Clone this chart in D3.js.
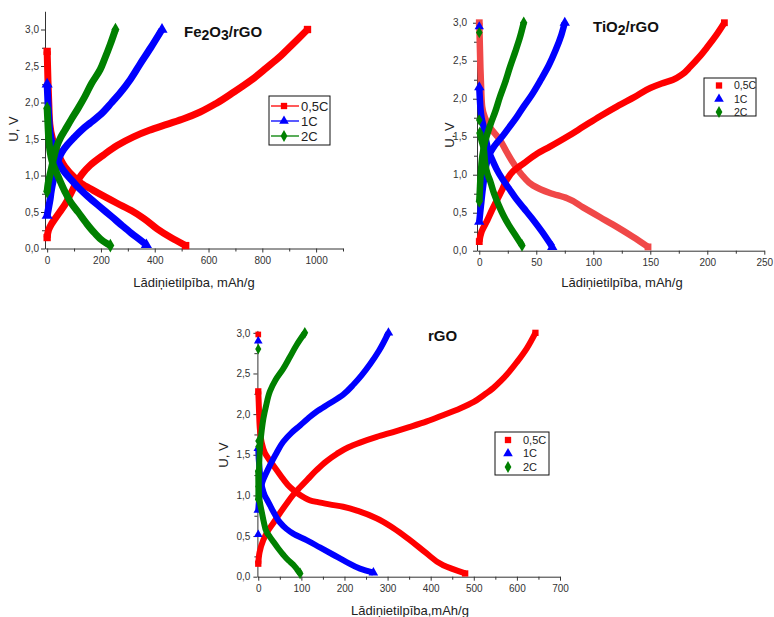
<!DOCTYPE html>
<html>
<head>
<meta charset="utf-8">
<script src="https://cdn.jsdelivr.net/npm/d3@7"></script>
<style>
  body { margin: 0; background: #fff; }
  text { font-family: "Liberation Sans", Arial, sans-serif; }
</style>
</head>
<body>
<script>
// ---- Fe2O3/rGO  [capacity mAh/g, voltage V]
var fe_05C_dis = [[0,2.7],[3,2.3],[6,2.0],[10,1.7],[20,1.5],[35,1.35],[66,1.12],[100,0.98],[128,0.89],[170,0.8],[214,0.71],[260,0.62],[313,0.52],[360,0.41],[409,0.27],[460,0.15],[515,0.04]];
var fe_05C_ch = [[0,0.15],[5,0.25],[15,0.33],[28,0.4],[45,0.49],[66,0.6],[90,0.77],[110,0.91],[130,1.02],[160,1.14],[209,1.28],[260,1.41],[321,1.53],[380,1.62],[445,1.7],[510,1.78],[569,1.87],[630,1.99],[693,2.14],[760,2.31],[817,2.48],[860,2.61],[891,2.72],[930,2.86],[968,3.0]];
var fe_1C_dis = [[0,2.25],[3,2.0],[6,1.8],[10,1.6],[16,1.48],[25,1.35],[40,1.2],[60,1.07],[90,0.94],[120,0.82],[152,0.71],[200,0.56],[239,0.44],[280,0.31],[313,0.21],[345,0.12],[369,0.05]];
var fe_1C_ch = [[0,0.45],[5,0.55],[10,0.65],[15,0.78],[22,0.92],[30,1.05],[40,1.2],[55,1.32],[75,1.42],[100,1.52],[130,1.63],[160,1.72],[197,1.83],[240,2.0],[271,2.13],[310,2.32],[346,2.53],[385,2.75],[427,3.0]];
var fe_2C_dis = [[0,1.92],[3,1.7],[6,1.5],[10,1.35],[18,1.2],[30,1.08],[45,0.95],[66,0.78],[90,0.62],[115,0.5],[145,0.35],[177,0.21],[205,0.11],[235,0.04]];
var fe_2C_ch = [[0,0.78],[4,0.9],[10,1.0],[16,1.1],[25,1.25],[35,1.39],[50,1.52],[66,1.62],[90,1.77],[115,1.92],[140,2.08],[165,2.26],[197,2.45],[214,2.6],[235,2.8],[254,3.0]];

// ---- TiO2/rGO
var ti_05C_dis = [[0,3.0],[0.5,2.7],[1,2.4],[1.5,2.2],[2.5,1.9],[5,1.75],[9,1.63],[18,1.46],[24,1.3],[30,1.15],[39,0.97],[47,0.86],[62,0.76],[77,0.69],[91,0.57],[106,0.44],[121,0.31],[135,0.18],[148,0.05]];
var ti_05C_ch = [[0,0.12],[2,0.25],[7,0.4],[11,0.53],[15.6,0.67],[20,0.8],[24,0.93],[30,1.05],[39,1.15],[50,1.27],[62,1.37],[77,1.5],[91,1.63],[106,1.77],[121,1.9],[136,2.02],[150,2.14],[160,2.2],[170,2.25],[178,2.32],[185,2.42],[193,2.55],[200,2.68],[208,2.84],[215,3.0]];
var ti_1C_pts = [[0,2.95]];
var ti_1C_dis = [[0,2.15],[0.5,2.0],[1,1.88],[2,1.75],[4,1.62],[6,1.45],[8,1.32],[11,1.21],[15,1.08],[20,0.95],[26,0.82],[32,0.69],[39,0.56],[46,0.43],[55,0.25],[64,0.05]];
var ti_1C_ch = [[0,0.38],[0.8,0.5],[1.8,0.64],[2.8,0.78],[3.8,0.9],[5,1.03],[6.8,1.17],[9,1.27],[12,1.35],[16,1.43],[20,1.5],[26,1.62],[32,1.74],[39,1.9],[46,2.05],[54,2.25],[61,2.44],[67,2.64],[72,2.84],[75,3.0]];
var ti_2C_pts = [[0,2.87],[0,1.72]];
var ti_2C_dis = [[0.5,1.55],[2,1.45],[3.8,1.35],[5.3,1.13],[7,1.02],[9.7,0.91],[13,0.75],[17,0.6],[21,0.47],[25.8,0.34],[31,0.22],[37.5,0.07]];
var ti_2C_ch = [[0,0.65],[0.5,0.8],[1,0.95],[1.5,1.05],[2.3,1.2],[3.5,1.32],[5,1.43],[6.7,1.52],[10,1.67],[14,1.83],[18,2.02],[22.8,2.22],[27,2.42],[31.6,2.62],[35.5,2.8],[39,3.0]];

// ---- rGO
var rgo_05C_pts = [[0,2.98]];
var rgo_05C_dis = [[0,2.28],[1,2.15],[2,2.0],[4,1.8],[8,1.65],[15.5,1.52],[28,1.42],[43,1.31],[58,1.2],[74,1.1],[90,1.03],[105,0.98],[120,0.94],[136,0.92],[165,0.89],[197,0.86],[236,0.8],[274,0.72],[313,0.6],[352,0.45],[390,0.29],[429,0.14],[480,0.04]];
var rgo_05C_ch = [[0,0.16],[3,0.3],[11.6,0.45],[22,0.56],[35,0.66],[50,0.78],[66,0.9],[80,1.0],[97,1.1],[115,1.2],[135,1.31],[158,1.42],[182,1.51],[208,1.59],[236,1.65],[275,1.72],[313,1.78],[350,1.84],[391,1.91],[430,1.99],[468,2.07],[500,2.15],[522,2.23],[545,2.32],[561,2.4],[582,2.52],[600,2.64],[623,2.81],[643,3.0]];
var rgo_1C_pts = [[0,2.9],[0,0.52]];
var rgo_1C_dis = [[0,1.58],[1,1.45],[3,1.33],[5,1.22],[9,1.1],[15,1.0],[20,0.95],[27,0.88],[37,0.78],[50,0.67],[65,0.59],[81,0.53],[112,0.45],[143,0.36],[174,0.27],[205,0.18],[236,0.1],[267,0.05]];
var rgo_1C_ch = [[0,0.82],[2,0.95],[5,1.07],[10,1.17],[18,1.27],[27,1.37],[40,1.5],[58,1.66],[77,1.77],[97,1.86],[116,1.95],[135,2.03],[165,2.13],[197,2.24],[222,2.37],[240,2.48],[260,2.62],[280,2.78],[302,3.0]];
var rgo_2C_pts = [[0,2.8],[0,1.67],[0,1.6],[0,1.11]];
var rgo_2C_dis = [[0,1.3],[1,1.1],[2,0.98],[5,0.88],[8.4,0.79],[13,0.67],[19.4,0.55],[27,0.49],[35,0.43],[46,0.35],[58,0.27],[70,0.2],[81,0.15],[90,0.09],[97,0.04]];
var rgo_2C_ch = [[0,0.95],[0.5,1.05],[1,1.2],[2,1.35],[3,1.5],[5,1.65],[8,1.8],[12,1.95],[18,2.1],[27,2.28],[40,2.42],[58,2.56],[73,2.7],[89,2.85],[108,3.0]];

var rates = ["0,5C", "1C", "2C"];
var colors = ["#ff0000", "#0000ff", "#008000"];
var shapes = [d3.symbolSquare, d3.symbolTriangle, d3.symbolDiamond];

var xTicksFe = [0, 200, 400, 600, 800, 1000];
var xTicksTi = [0, 50, 100, 150, 200, 250];
var xTicksRgo = [0, 100, 200, 300, 400, 500, 600, 700];
var yTicks = [0, 0.5, 1, 1.5, 2, 2.5, 3];

var svg = d3.select("body").append("svg")
    .attr("width", 774)
    .attr("height", 617);

var fmtY = function(d) { return d3.format(".1f")(d).replace(".", ","); };

function panel(p) {
  var x = d3.scaleLinear().domain(p.xDom).range(p.xRange);
  var y = d3.scaleLinear().domain(p.yDom).range(p.yRange);
  var g = svg.append("g");

  // minor ticks
  var xMinor = d3.range(0, p.xDom[1] + 0.001, p.xMinor).filter(function(v) { return p.xTicks.indexOf(v) < 0; });
  g.append("g").attr("transform", "translate(0," + p.yRange[0] + ")")
    .call(d3.axisBottom(x).tickValues(xMinor).tickSize(3).tickSizeOuter(0).tickFormat(""))
    .call(function(a) { a.select(".domain").remove(); });
  var yMinor = d3.range(0.25, 3.01, 0.5);
  g.append("g").attr("transform", "translate(" + p.xRange[0] + ",0)")
    .call(d3.axisLeft(y).tickValues(yMinor).tickSize(3).tickSizeOuter(0).tickFormat(""))
    .call(function(a) { a.select(".domain").remove(); });

  g.append("g").attr("transform", "translate(0," + p.yRange[0] + ")")
    .call(d3.axisBottom(x).tickValues(p.xTicks).tickSize(4).tickSizeOuter(0).tickPadding(p.xPad).tickFormat(d3.format("d")));
  g.append("g").attr("transform", "translate(" + p.xRange[0] + ",0)")
    .call(d3.axisLeft(y).tickValues(yTicks).tickSize(4).tickSizeOuter(0).tickPadding(p.yPad).tickFormat(fmtY));
  g.selectAll(".domain, .tick line").attr("stroke", "#333");
  g.selectAll(".tick text").attr("font-size", 10).attr("fill", "#333")
    .style("font-family", "'Liberation Sans', Arial, sans-serif");

  // curves
  var line = d3.line().x(function(d) { return x(d[0]); }).y(function(d) { return y(d[1]); })
    .curve(d3.curveMonotoneY);
  p.series.forEach(function(s, i) {
    s.curves.forEach(function(c, k) {
      var col = (s.fade && k === 0) ? "#f04848" : colors[i];
      g.append("path").datum(c)
        .attr("d", line)
        .attr("fill", "none")
        .attr("stroke", col)
        .attr("stroke-width", p.lw)
        .attr("stroke-linejoin", "round");
      [c[0], c[c.length - 1]].forEach(function(d) {
        g.append("path")
          .attr("d", d3.symbol().type(shapes[i]).size(p.lw * p.lw * 1.1))
          .attr("transform", "translate(" + x(d[0]) + "," + y(d[1]) + ")")
          .attr("fill", col);
      });
    });
    (s.pts || []).forEach(function(d) {
      g.append("path")
        .attr("d", d3.symbol().type(shapes[i]).size(p.lw * p.lw * 0.9))
        .attr("transform", "translate(" + x(d[0]) + "," + y(d[1]) + ")")
        .attr("fill", colors[i]);
    });
  });

  // title
  var t = g.append("text").attr("x", p.title.x).attr("y", p.title.y)
    .attr("font-size", 15).attr("font-weight", "bold").attr("fill", "#111");
  p.title.parts.forEach(function(part) {
    var ts = t.append("tspan").text(part[0]);
    if (part[1]) ts.attr("dy", 3).attr("font-size", 14);
    else if (part[2]) ts.attr("dy", -3);
  });

  // axis titles
  g.append("text").attr("x", p.xLab[0]).attr("y", p.xLab[1])
    .attr("text-anchor", "middle").attr("font-size", 13).attr("fill", "#222")
    .text(p.xLab[2]);
  g.append("text")
    .attr("transform", "translate(" + p.yLab[0] + "," + p.yLab[1] + ") rotate(-90)")
    .attr("text-anchor", "middle").attr("font-size", 13).attr("fill", "#222")
    .text("U, V");

  // legend
  var L = p.legend;
  g.append("rect").attr("x", L.x).attr("y", L.y).attr("width", L.w).attr("height", L.h)
    .attr("fill", "#fff").attr("stroke", "#111").attr("stroke-width", 1);
  rates.forEach(function(r, i) {
    var ry = L.rows[i];
    if (L.lines) {
      g.append("line").attr("x1", L.x + 2).attr("x2", L.x + 30).attr("y1", ry).attr("y2", ry)
        .attr("stroke", colors[i]).attr("stroke-width", 1.3);
    }
    g.append("path")
      .attr("d", d3.symbol().type(shapes[i]).size(L.ms))
      .attr("transform", "translate(" + L.mx + "," + ry + ")")
      .attr("fill", colors[i]);
    g.append("text").attr("x", L.tx).attr("y", ry).attr("dy", "0.35em")
      .attr("font-size", L.fs).attr("fill", "#222").text(r);
  });
}

panel({
  xDom: [-8, 1100], xRange: [45, 343], yDom: [0, 3.25], yRange: [248.5, 11.25],
  xTicks: xTicksFe, xMinor: 100, xPad: 4.5, yPad: 2, lw: 7,
  series: [
    { curves: [fe_05C_dis, fe_05C_ch] },
    { curves: [fe_1C_dis, fe_1C_ch] },
    { curves: [fe_2C_dis, fe_2C_ch] }
  ],
  title: { x: 184, y: 37, parts: [["Fe"], ["2", true], ["O", false, true], ["3", true], ["/rGO", false, true]] },
  xLab: [194, 287, "Lādiņietilpība, mAh/g"],
  yLab: [18, 129],
  legend: { x: 269, y: 96, w: 61, h: 49, rows: [106, 121, 136], lines: true, mx: 284, tx: 301, ms: 40, fs: 13 }
});

panel({
  xDom: [-2, 250], xRange: [477, 764.3], yDom: [0, 3.04], yRange: [250.7, 19.7],
  xTicks: xTicksTi, xMinor: 25, xPad: 4, yPad: 6, lw: 6.5,
  series: [
    { curves: [ti_05C_dis, ti_05C_ch], fade: true },
    { curves: [ti_1C_dis, ti_1C_ch], pts: ti_1C_pts },
    { curves: [ti_2C_dis, ti_2C_ch], pts: ti_2C_pts }
  ],
  title: { x: 593, y: 32, parts: [["TiO"], ["2", true], ["/rGO", false, true]] },
  xLab: [622, 287, "Lādiņietilpība, mAh/g"],
  yLab: [454, 135],
  legend: { x: 704, y: 78, w: 52, h: 38, rows: [85.5, 99, 112], lines: false, mx: 719, tx: 734, ms: 40, fs: 10.5 }
});

panel({
  xDom: [-2, 700], xRange: [257.4, 560], yDom: [0, 3.03], yRange: [576.7, 330.4],
  xTicks: xTicksRgo, xMinor: 50, xPad: 4, yPad: 3, lw: 6,
  series: [
    { curves: [rgo_05C_dis, rgo_05C_ch], pts: rgo_05C_pts },
    { curves: [rgo_1C_dis, rgo_1C_ch], pts: rgo_1C_pts },
    { curves: [rgo_2C_dis, rgo_2C_ch], pts: rgo_2C_pts }
  ],
  title: { x: 428, y: 341, parts: [["rGO"]] },
  xLab: [410, 615, "Lādiņietilpība,mAh/g"],
  yLab: [228, 455],
  legend: { x: 495, y: 432, w: 54, h: 43, rows: [440, 453.5, 467], lines: false, mx: 508, tx: 523, ms: 40, fs: 11 }
});
</script>
</body>
</html>
